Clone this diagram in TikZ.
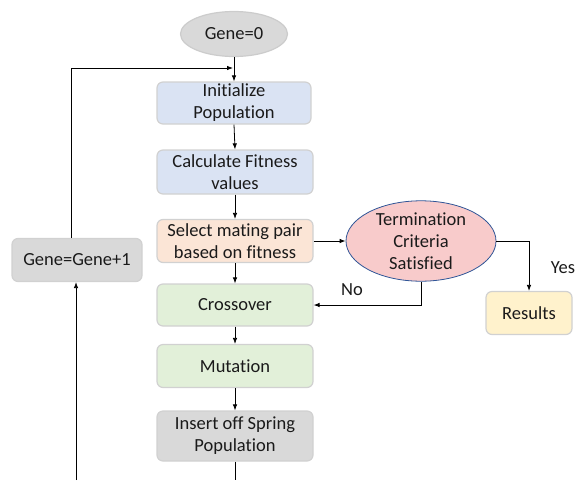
\documentclass[tikz,border=0pt]{standalone}
\usepackage{fontspec}
\setmainfont{Carlito}[Ligatures={NoCommon}]
\usetikzlibrary{shapes.geometric,arrows.meta}
\definecolor{fblue}{HTML}{DAE3F3}
\definecolor{forange}{HTML}{FBE5D6}
\definecolor{fgreen}{HTML}{E2F0D9}
\definecolor{fgray}{HTML}{D9D9D9}
\definecolor{fyellow}{HTML}{FFF2CC}
\definecolor{fpink}{HTML}{F8CBCB}
\definecolor{edgeblue}{HTML}{2F5597}
\definecolor{txt}{HTML}{1A1A1A}
\tikzset{
  box/.style={rectangle, rounded corners=6pt, draw=black!18, line width=1.2pt,
    align=center, inner sep=0pt, text=txt, font=\fontsize{18.5}{22}\selectfont},
  lbl/.style={font=\fontsize{18.5}{22}\selectfont, inner sep=0pt, text=txt},
  conn/.style={draw=black, line width=0.8pt},
  arr/.style={conn, -{Latex[length=6pt,width=4.5pt]}}
}
\begin{document}
\begin{tikzpicture}[x=1pt,y=-1pt]
\useasboundingbox (0,0) rectangle (575,480);
\node[ellipse, draw=black!20, line width=1.2pt, fill=fgray, minimum width=107pt, minimum height=45pt, inner sep=0pt, text=txt, font=\fontsize{18.5}{22}\selectfont] (g0) at (234,34) {Gene=0};
\node[box, fill=fblue, minimum width=154pt, minimum height=42pt] (init) at (234,103) {Initialize\\Population};
\node[box, fill=fblue, minimum width=156pt, minimum height=44pt] (calc) at (235,172) {Calculate Fitness\\values};
\node[box, fill=forange, minimum width=156pt, minimum height=43pt] (sel) at (235,241) {Select mating pair\\based on fitness};
\node[box, fill=fgreen, minimum width=156pt, minimum height=42pt] (cross) at (235,305) {Crossover};
\node[box, fill=fgreen, minimum width=156pt, minimum height=43pt] (mut) at (235,366) {Mutation};
\node[box, fill=fgray, minimum width=156pt, minimum height=50pt] (ins) at (235,436) {Insert off Spring\\Population};
\node[box, fill=fgray, minimum width=130pt, minimum height=43pt] (gp1) at (77,260) {Gene=Gene+1};
\node[ellipse, draw=edgeblue, line width=0.8pt, fill=fpink, minimum width=150pt, minimum height=68pt, inner sep=0pt, align=center, text=txt, font=\fontsize{18.5}{22}\selectfont] (term) at (421,241) {Termination\\Criteria\\Satisfied};
\node[box, fill=fyellow, minimum width=86pt, minimum height=43pt] (res) at (529,313) {Results};
\coordinate (j) at (233,68);
\coordinate (bot) at (235,480);
\coordinate (botl) at (76,480);
\draw[arr] (g0.south) -- (init.north);
\draw[arr] ([xshift=-6pt]gp1.north) |- (j);
\draw[arr] (init.south) -- (calc.north);
\draw[arr] (calc.south) -- (sel.north);
\draw[arr] (sel.south) -- (cross.north);
\draw[arr] (cross.south) -- (mut.north);
\draw[arr] (mut.south) -- (ins.north);
\draw[arr] (sel.east) -- (term.west);
\draw[arr] (term.east) -| (res.north);
\draw[arr] (term.south) |- (cross.east);
\draw[conn] (ins.south) -- (bot);
\draw[arr] (botl) -- (botl |- gp1.south);
\node[lbl] (yes) at (563,268) {Yes};
\node[lbl] (no) at (352,290) {No};
\end{tikzpicture}
\end{document}
